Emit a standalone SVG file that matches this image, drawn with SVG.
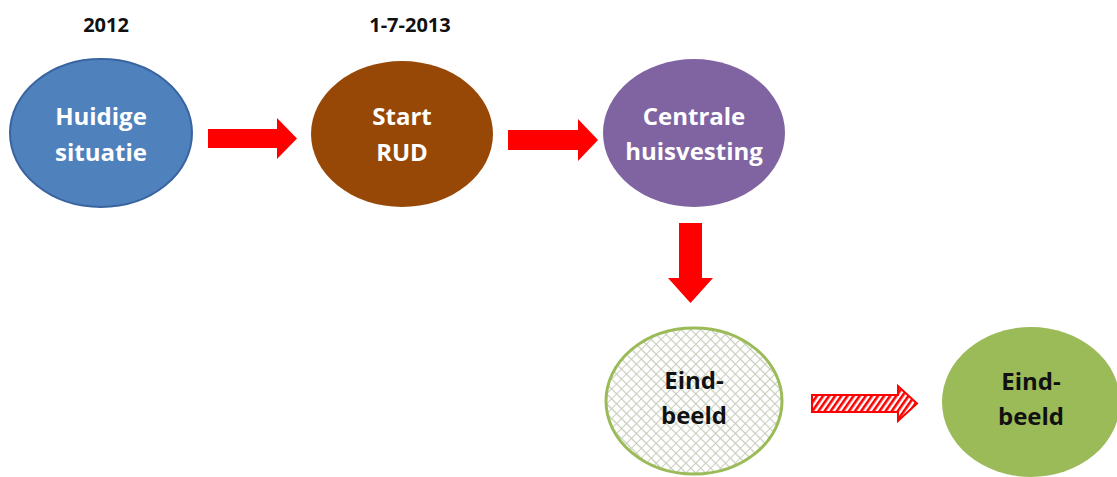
<svg xmlns="http://www.w3.org/2000/svg" width="1117" height="477" viewBox="0 0 1117 477">
<defs>
<style>
.lbl{font-family:"Open Sans","Liberation Sans",sans-serif;font-weight:bold;font-size:24px;text-anchor:middle}
.w{fill:#ffffff}
.k{fill:#111111}
.date{font-family:"Open Sans","Liberation Sans",sans-serif;font-weight:bold;font-size:20px;text-anchor:middle;fill:#111111}
.arr{fill:#ff0000}
</style>
<pattern id="hatch" width="7" height="7" patternUnits="userSpaceOnUse" patternTransform="rotate(45)">
<rect width="7" height="7" fill="#ffffff"/>
<line x1="0" y1="0" x2="0" y2="7" stroke="#b4b9a4" stroke-width="1.4"/>
<line x1="0" y1="3.5" x2="7" y2="3.5" stroke="#c8ccbb" stroke-width="1.2"/>
</pattern>
<pattern id="stripe" width="5" height="5" patternUnits="userSpaceOnUse" patternTransform="rotate(35)">
<rect width="5" height="5" fill="#ffffff"/>
<rect width="2.6" height="5" fill="#ff0000"/>
</pattern>
</defs>
<rect width="1117" height="477" fill="#ffffff"/>
<text class="date" x="106" y="32">2012</text>
<text class="date" x="410" y="32">1-7-2013</text>
<g id="connectors">
<path class="arr" d="M208,129 H277 V118 L297,138.5 L277,159 V148 H208 Z"/>
<path class="arr" d="M508,130 H578 V119 L598,140 L578,161 V150 H508 Z"/>
<path class="arr" d="M679,223 H702 V278 H713 L690.5,303 L668,278 H679 Z"/>
<path d="M812,395 H898 V386 L917,403.5 L898,421 V412 H812 Z" fill="url(#stripe)" stroke="#ff0000" stroke-width="2"/>
</g>
<g id="huidige">
<ellipse cx="101" cy="133" rx="91" ry="74" fill="#4f81bd" stroke="#3a64a0" stroke-width="2"/>
<text class="lbl w" x="101" y="125">Huidige</text>
<text class="lbl w" x="101" y="161">situatie</text>
</g>
<g id="start">
<ellipse cx="402" cy="134" rx="91" ry="73" fill="#974806"/>
<text class="lbl w" x="402" y="125">Start</text>
<text class="lbl w" x="402" y="161">RUD</text>
</g>
<g id="centrale">
<ellipse cx="694" cy="133" rx="91" ry="74" fill="#8064a2"/>
<text class="lbl w" x="694" y="125">Centrale</text>
<text class="lbl w" x="694" y="160">huisvesting</text>
</g>
<g id="eindbeeld-hatched">
<ellipse cx="694" cy="401" rx="88" ry="73" fill="url(#hatch)" stroke="#9bbb59" stroke-width="3"/>
<text class="lbl k" x="694" y="389">Eind-</text>
<text class="lbl k" x="694" y="424">beeld</text>
</g>
<g id="eindbeeld">
<ellipse cx="1031" cy="402" rx="89" ry="75" fill="#9bbb59"/>
<text class="lbl k" x="1031" y="390">Eind-</text>
<text class="lbl k" x="1031" y="425">beeld</text>
</g>
</svg>
